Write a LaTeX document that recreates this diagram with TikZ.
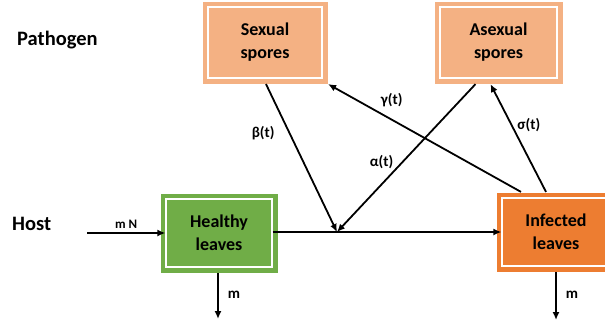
\documentclass[tikz,border=0pt]{standalone}
\usepackage{fontspec}
\setmainfont{Carlito}
\usetikzlibrary{arrows.meta,positioning}

\definecolor{sporecol}{HTML}{F4B183}
\definecolor{healthycol}{HTML}{70AD47}
\definecolor{infectcol}{HTML}{ED7D31}

\tikzset{
    compart/.style={fill=#1, draw=white, line width=1.2pt,
        preaction={draw=#1, line width=11pt},
        inner sep=0pt, align=center,
        font=\fontsize{18}{23}\selectfont\bfseries},
    flow/.style={line width=1.8pt, -{Latex[length=8pt,width=7pt]}},
    rate/.style={font=\fontsize{15}{16}\selectfont\bfseries, inner sep=1pt},
    rowlabel/.style={font=\fontsize{20.5}{22}\selectfont\bfseries, anchor=west, inner sep=0pt},
}

\begin{document}
\begin{tikzpicture}[x=1pt,y=-1pt]

\def\bh{71}
\def\lh{68}

\useasboundingbox (0,0) rectangle (605,325);
\clip (0,0) rectangle (605,325);

%compartments
\node[compart=sporecol, minimum width=114pt, minimum height=\bh pt] (sexual) at (265,42.5) {Sexual\\spores};
\node[compart=sporecol, minimum width=117pt, minimum height=\bh pt] (asexual) at (498.5,42.5) {Asexual\\spores};
\node[compart=healthycol, minimum width=106pt, minimum height=\lh pt] (healthy) at (219,233) {Healthy\\leaves};
\node[compart=infectcol, minimum width=108pt, minimum height=\lh pt] (infected) at (556,232) {Infected\\leaves};

%row labels
\node[rowlabel] (pathogen) at (17,40) {Pathogen};
\node[rowlabel] (host) at (12,223.5) {Host};

%helper points
\coordinate (src) at (87,233);
\coordinate (meet) at (337,232);
\coordinate (hout) at (218,319);
\coordinate (iout) at (556,320);

%host flows
\draw[flow] (src) -- (healthy.west |- src) node[midway, above=3pt, rate, font=\fontsize{13}{14}\selectfont\bfseries] {m N};
\draw[flow] (healthy.east |- meet) -- (infected.west |- meet);
\draw[flow] (healthy.south -| hout) ++(0,5.5) -- (hout) node[pos=0.47, right=8pt, rate] {m};
\draw[flow] (infected.south -| iout) ++(0,5.5) -- (iout) node[pos=0.47, right=8pt, rate] {m};

%infection
\draw[flow] ([xshift=1pt,yshift=-5.5pt]sexual.south) -- (meet) node[pos=0.33, left=13pt, rate] {β(t)};
\draw[flow] ([xshift=-23pt,yshift=-5.5pt]asexual.south) -- (meet) node[pos=0.53, left=7pt, rate] {α(t)};

%spore production
\draw[flow] ([xshift=-35pt,yshift=5.5pt]infected.north) -- ([xshift=5.5pt,yshift=-5.5pt]sexual.south east) node[pos=0.67, above=11pt, rate] {γ(t)};
\draw[flow] ([xshift=-10pt,yshift=5.5pt]infected.north) -- ([xshift=-8pt,yshift=-5.5pt]asexual.south) node[pos=0.62, right=4pt, rate] {σ(t)};

\end{tikzpicture}
\end{document}
